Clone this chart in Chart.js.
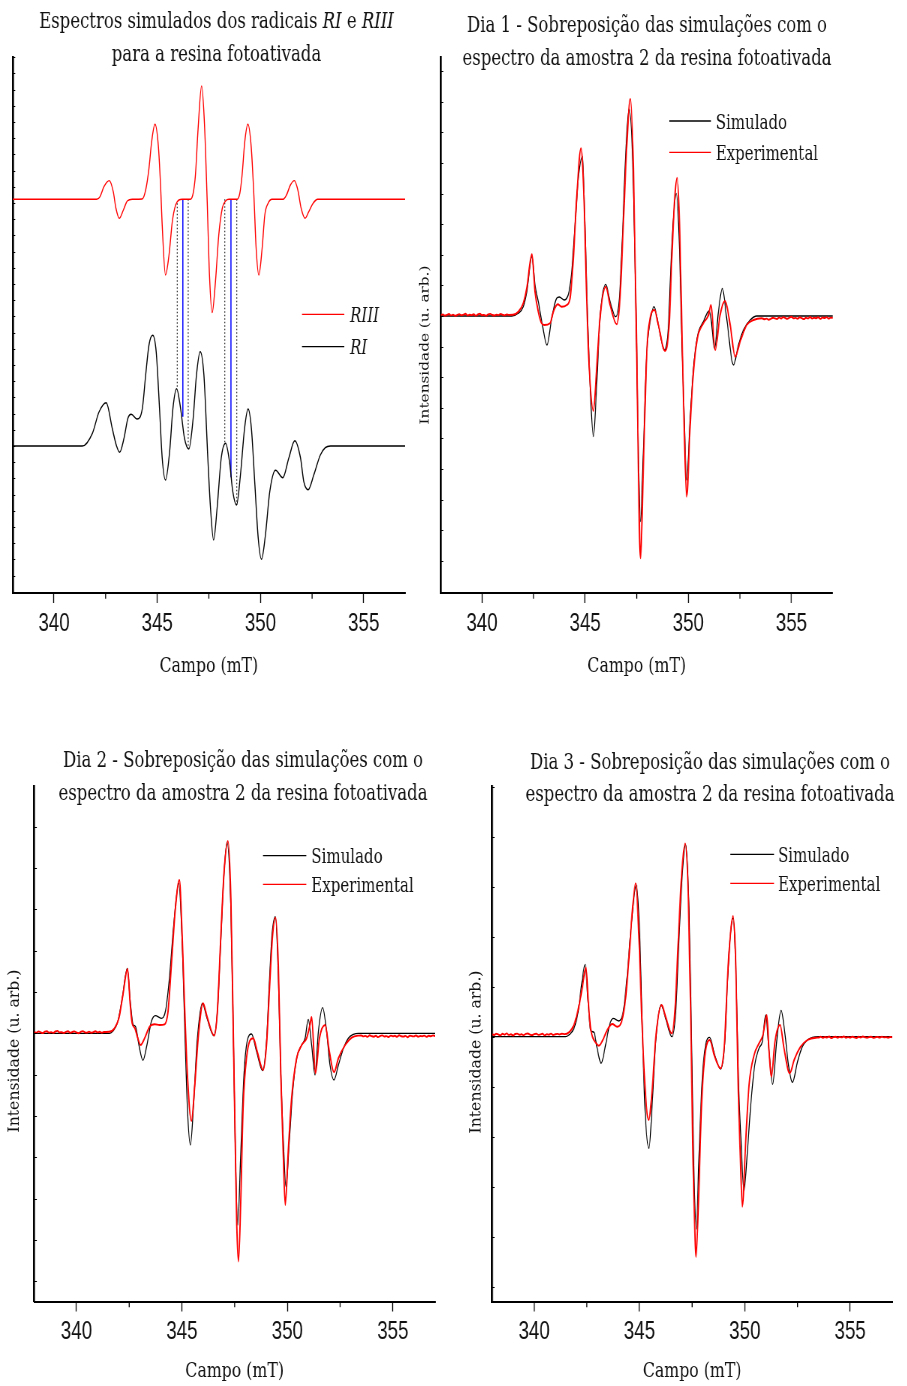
<!DOCTYPE html>
<html>
<head>
<meta charset="utf-8">
<script src="https://cdn.jsdelivr.net/npm/chart.js@4.4.1/dist/chart.umd.min.js"></script>
<style>
  html, body { margin: 0; padding: 0; background: #fff; width: 907px; height: 1386px; overflow: hidden; position: relative; }
  .panel { position: absolute; transform-origin: 0 0; }
  .panel canvas { display: block; }
</style>
</head>
<body>
<script>
// ---------------------------------------------------------------
// EPR spectra (first-derivative), field in mT, intensity in arbitrary units
// ---------------------------------------------------------------

// Field axis shared by every panel
const fieldMin = 338;
const fieldMax = 357;
const fieldTicks = [340, 345, 350, 355];
const fieldMinorTicks = [342.5, 347.5, 352.5];
const sweepStep = 0.1;   // field step of the recorded baseline stretches

// Simulated RIII radical
const riiiSpectrum = [
  [338.00,0],[342.07,0],[342.23,2.7],[342.42,12.7],[342.68,18.7],[342.87,7.7],[343.00,-9],[343.16,-19],
  [343.36,-10.7],[343.55,-1.7],[343.79,0],[344.27,0.3],[344.44,9.3],[344.60,31],[344.73,57.7],[344.89,75],
  [345.05,54.3],[345.16,14.3],[345.24,-25.7],[345.40,-75.7],[345.57,-55.7],[345.73,-22.3],[345.89,-5.7],
  [346.05,-0.7],[346.21,0],[346.61,0],[346.74,6],[346.85,24.3],[346.98,71],[347.15,113.3],[347.29,74.3],
  [347.42,-2.3],[347.53,-75.7],[347.66,-113.3],[347.82,-82.3],[347.98,-35.7],[348.15,-9],[348.31,-1.7],
  [348.47,0],[348.87,0],[349.00,6],[349.11,24.3],[349.24,57.7],[349.39,75],[349.55,52.7],[349.68,4.3],
  [349.79,-49],[349.92,-75.7],[350.08,-49],[350.21,-15.7],[350.37,-4],[350.56,0],[351.10,0],[351.26,4.3],
  [351.45,14.3],[351.64,18.7],[351.81,9.3],[351.97,-9],[352.16,-19],[352.34,-12.3],[352.55,-4],[352.77,0],
  [357.00,0]
];

// Simulated RI radical
const riSpectrum = [
  [338.00,0],[341.37,0],[341.86,12.7],[342.18,34],[342.53,43.3],[342.82,17.7],[343.03,0],[343.18,-6.3],
  [343.39,7.7],[343.58,27.7],[343.74,31.7],[344.03,27],[344.28,37.7],[344.44,71],[344.60,101],[344.78,110.7],
  [344.95,94],[345.11,37.7],[345.24,-12],[345.40,-34],[345.60,-5.7],[345.76,37.7],[345.94,57.3],[346.13,37.7],
  [346.32,7.7],[346.53,-3],[346.74,27.7],[346.90,71],[347.08,94.3],[347.26,71],[347.45,-12],[347.58,-62],
  [347.73,-94],[347.90,-62],[348.10,-12],[348.31,2.7],[348.50,-15.7],[348.66,-45.7],[348.84,-59],[349.03,-29],
  [349.23,17.7],[349.40,37],[349.56,17.7],[349.73,-39],[349.89,-92],[350.05,-113.3],[350.24,-89],[350.45,-45.7],
  [350.73,-24.3],[351.08,-31.7],[351.37,-12.3],[351.66,5.3],[351.94,-12],[352.10,-35.7],[352.31,-43.7],
  [352.58,-29],[352.90,-9],[353.14,-1.7],[353.39,0],[357.00,0]
];

// Guide lines between the RIII and RI traces (field, RIII value at top, RI value at bottom)
const solidGuideField = [346.24, 348.57];
const solidGuideTop = [0, 0];
const solidGuideBottom = [29.3, -31.3];
const dottedGuideField = [345.97, 346.50, 348.27, 348.85];
const dottedGuideTop = [-4, 0, 0, 0];
const dottedGuideBottom = [57.7, -2.3, 2.7, -59];

// Dia 1
const dia1Simulado = [
  [338.00,0],[341.44,0],[341.76,2.7],[342.00,9.3],[342.17,24],[342.42,59.3],[342.57,31],[342.73,14.3],
  [342.93,-9],[343.15,-29],[343.38,-2.3],[343.62,17.7],[343.75,19],[343.99,16],[344.22,24.3],[344.35,44.3],
  [344.51,91],[344.67,137.7],[344.87,159.3],[344.99,91],[345.12,-2.3],[345.24,-69],[345.40,-120.7],
  [345.56,-69],[345.72,-2.3],[346.00,31.7],[346.21,14.3],[346.48,-0.7],[346.66,17.7],[346.81,81],
  [346.97,164],[347.13,207.7],[347.34,131],[347.50,-35.7],[347.58,-135.7],[347.68,-205.7],[347.82,-135.7],
  [347.99,-35.7],[348.15,-5.7],[348.34,9.3],[348.55,-9],[348.84,-34],[349.04,-9],[349.15,47.7],[349.28,97.7],
  [349.41,122.7],[349.55,81],[349.68,-19],[349.80,-102],[349.92,-164],[350.09,-102],[350.25,-52.3],
  [350.44,-20.7],[350.73,-5.7],[351.01,5],[351.10,-2.3],[351.27,-32.3],[351.46,4.3],[351.65,27.7],
  [351.86,-2.3],[352.19,-49],[352.43,-29],[352.67,-14],[353.00,-4],[353.32,0],[357.00,0]
];
const dia1Experimental = [
  [341.50,1.2],[341.76,4.3],[342.00,12.7],[342.17,27.7],[342.42,61.7],[342.57,24.3],[342.73,4.3],[342.89,-7.3],
  [343.02,-9],[343.30,-7.3],[343.46,4.3],[343.67,11.7],[343.86,9.3],[344.11,11],[344.27,17.7],[344.43,57.7],
  [344.59,117.7],[344.80,167.7],[344.95,114.3],[345.08,14.3],[345.20,-52.3],[345.40,-95],[345.56,-52.3],
  [345.72,-2.3],[346.00,29.3],[346.21,11],[346.53,-8.3],[346.69,17.7],[346.85,91],[347.02,171],[347.19,217],
  [347.34,147.7],[347.50,-35.7],[347.58,-152.3],[347.68,-242.3],[347.82,-152.3],[347.99,-35.7],[348.15,-2.3],
  [348.36,6],[348.55,-9],[348.87,-35],[349.07,-9],[349.20,57.7],[349.33,114.3],[349.46,138.3],[349.59,81],
  [349.71,-35.7],[349.81,-119],[349.92,-180.7],[350.09,-109],[350.25,-55.7],[350.44,-22.3],[350.73,-7.3],
  [350.98,1],[351.10,11],[351.30,-34],[351.54,1],[351.78,15],[352.03,-9],[352.27,-40.7],[352.51,-25.7],
  [352.83,-9],[353.16,-4],[353.56,-2.3]
];
const dia1BaselineLow = [0.8,1.6,0.3,1.1,2.0,0.6,1.4,0.2,1.0,1.9,0.7,1.3,2.2,0.5,1.2,0.9,1.8,0.4,1.5,2.3,
  0.8,1.1,0.3,1.7,2.1,1.0,0.5,1.4,0.9,2.0,1.2,0.6,1.6,1.1];
const dia1BaselineHigh = [-3.2,-2.6,-3.8,-2.9,-1.8,-2.4,-3.0,-1.4,-2.5,-1.1,-2.0,-2.8,-1.6,-0.8,-2.3,-1.9,
  -2.7,-1.3,-2.1,-3.1,-1.7,-2.4,-1.0,-2.6,-1.8,-2.2,-1.2,-2.9,-1.5,-2.0,-1.1,-2.5,-1.6,-1.9];

// Dia 2
const dia2Simulado = [
  [338.00,0],[341.57,0],[341.73,2.3],[341.96,11.7],[342.17,35],[342.41,65],[342.55,31.7],[342.68,9],
  [342.80,6.7],[342.96,-11.7],[343.15,-27],[343.34,-11.7],[343.55,11.7],[343.74,17.7],[344.02,15],[344.23,23.3],
  [344.42,58.3],[344.61,108.3],[344.85,150],[345.01,91.7],[345.13,8.3],[345.26,-75],[345.40,-111.7],
  [345.56,-68.3],[345.72,-8.3],[345.97,30],[346.19,15],[346.51,-2.3],[346.68,21.7],[346.84,91.7],[346.99,158.3],
  [347.14,191],[347.32,125],[347.43,8.3],[347.54,-125],[347.65,-191.7],[347.78,-125],[347.94,-41.7],
  [348.09,-8.3],[348.30,-0.7],[348.54,-18.3],[348.82,-37.3],[349.01,-8.3],[349.14,48.3],[349.27,98.3],
  [349.43,116.7],[349.57,58.3],[349.69,-41.7],[349.81,-108.3],[349.93,-153.3],[350.09,-108.3],[350.25,-58.3],
  [350.44,-25],[350.68,-11.7],[350.84,-5],[350.99,14],[351.15,-11.7],[351.31,-41.7],[351.47,1.7],[351.67,25.7],
  [351.86,1.7],[352.02,-31.7],[352.21,-46.7],[352.42,-31.7],[352.66,-15],[352.89,-5],[353.13,-1],[353.37,0],
  [357.00,0]
];
const dia2Experimental = [
  [341.55,1.5],[341.80,5],[342.01,15],[342.20,38.3],[342.42,64.3],[342.55,28.3],[342.64,10],[342.77,5],
  [342.91,-5],[343.04,-11.7],[343.23,-5],[343.47,6.7],[343.71,9],[343.94,8.3],[344.18,9],[344.34,21.7],
  [344.50,68.3],[344.69,125],[344.88,153.3],[345.01,98.3],[345.13,25],[345.26,-41.7],[345.45,-87.7],
  [345.61,-51.7],[345.77,-5],[346.00,30],[346.19,16.7],[346.53,-2.3],[346.68,21.7],[346.84,95],[347.00,161.7],
  [347.18,192.3],[347.32,135],[347.43,8.3],[347.54,-125],[347.60,-191.7],[347.68,-228.3],[347.78,-175],
  [347.90,-75],[348.06,-25],[348.38,-5],[348.57,-18.3],[348.85,-36.7],[349.01,-11.7],[349.17,51.7],
  [349.30,98.3],[349.44,115.7],[349.57,68.3],[349.69,-41.7],[349.81,-125],[349.90,-171.7],[350.04,-118.3],
  [350.20,-65],[350.44,-25],[350.68,-11.7],[350.91,-5],[351.07,8.3],[351.15,16.3],[351.33,-40],[351.52,-5],
  [351.79,8.3],[351.99,-18.3],[352.21,-39],[352.42,-25],[352.74,-11.7],[353.05,-4.3],[353.37,-2.3]
];
const dia2BaselineLow = [1.3,0.5,1.9,1.0,0.2,1.6,2.1,0.7,1.2,0.4,1.8,2.4,0.9,1.1,0.3,1.5,2.0,0.6,1.3,1.9,
  0.8,0.1,1.4,2.2,1.0,0.7,1.7,0.5,1.2,2.0,0.9,1.5,0.6,1.3];
const dia2BaselineHigh = [-2.2,-3.1,-2.6,-3.6,-2.0,-2.9,-3.4,-2.4,-3.8,-2.7,-2.1,-3.2,-2.8,-3.7,-2.3,-3.0,
  -2.5,-3.5,-2.0,-2.9,-3.3,-2.6,-3.9,-2.4,-2.8,-3.1,-2.2,-3.4,-2.7,-3.0,-2.3,-3.6,-2.5,-2.9,-2.1,-2.7];

// Dia 3
const dia3Simulado = [
  [338.00,0],[341.49,0],[341.65,1.7],[341.89,8.3],[342.09,25],[342.25,51.7],[342.42,72.3],[342.55,38.3],
  [342.68,6.7],[342.84,4.3],[342.99,-11.7],[343.18,-26.7],[343.39,-8.3],[343.58,11.7],[343.75,18.3],
  [344.02,15.7],[344.23,25],[344.42,61.7],[344.61,111.7],[344.85,151.7],[345.01,101.7],[345.13,11.7],
  [345.26,-71.7],[345.45,-111.7],[345.61,-65],[345.77,-5],[346.03,31.7],[346.24,18.3],[346.54,0],[346.72,25],
  [346.87,95],[347.03,161.7],[347.19,192.3],[347.35,128.3],[347.46,11.7],[347.57,-121.7],[347.70,-192.3],
  [347.82,-121.7],[347.98,-41.7],[348.14,-8.3],[348.33,-0.7],[348.57,-18.3],[348.85,-32.3],[349.04,-8.3],
  [349.17,51.7],[349.30,98.3],[349.44,118.3],[349.57,71.7],[349.69,-38.3],[349.82,-105],[349.96,-153.3],
  [350.12,-115],[350.28,-68.3],[350.47,-28.3],[350.67,-11.7],[350.83,-5],[350.99,21.7],[351.15,-15],
  [351.32,-47.7],[351.51,-5],[351.72,26.3],[351.91,1.7],[352.07,-28.3],[352.26,-45.7],[352.50,-25],
  [352.73,-10],[352.97,-3.3],[353.21,-0.7],[353.52,0],[357.00,0]
];
const dia3Experimental = [
  [341.45,2.6],[341.65,4.3],[341.89,11.7],[342.12,30],[342.28,48.3],[342.46,69.3],[342.57,35],[342.68,8.3],
  [342.80,-1.7],[342.95,-6.7],[343.07,-9],[343.26,-3.3],[343.47,6.7],[343.71,12.7],[343.94,10],[344.15,15],
  [344.34,38.3],[344.50,78.3],[344.66,125],[344.82,153.3],[344.97,101.7],[345.10,25],[345.23,-38.3],
  [345.43,-83.3],[345.61,-51.7],[345.77,-1.7],[346.05,31.7],[346.24,20],[346.53,3.3],[346.68,25],[346.84,95],
  [347.00,161.7],[347.17,193.3],[347.32,138.3],[347.44,11.7],[347.54,-121.7],[347.62,-188.3],[347.68,-220.3],
  [347.79,-171.7],[347.94,-71.7],[348.09,-21.7],[348.33,-3.3],[348.57,-20],[348.85,-31.7],[349.04,-5],
  [349.17,55],[349.30,98.3],[349.44,120.7],[349.57,71.7],[349.69,-55],[349.79,-121.7],[349.88,-170],
  [350.04,-105],[350.20,-48.3],[350.44,-18.3],[350.67,-6.7],[350.86,1.7],[351.04,21.7],[351.15,-15],
  [351.26,-40],[351.43,-5],[351.67,11.7],[351.86,-11.7],[352.13,-36.7],[352.34,-23.3],[352.65,-10],
  [352.97,-3.3],[353.37,-1]
];
const dia3BaselineLow = [2.6,1.7,3.0,2.2,1.4,2.9,2.0,3.3,1.8,2.5,1.2,2.7,3.1,1.9,2.4,1.5,2.8,3.2,2.1,1.6,
  2.6,3.0,1.8,2.3,2.9,1.3,2.5,2.0,3.1,1.7,2.4,2.8,2.2,3.0];
const dia3BaselineHigh = [-0.9,0.1,-1.2,-0.3,-0.8,0.2,-1.4,-0.5,0.0,-1.0,-0.2,-0.7,0.3,-1.1,-0.4,-0.9,0.1,
  -0.6,-1.3,-0.1,-0.8,0.2,-0.5,-1.0,-0.3,0.0,-1.2,-0.6,-0.2,-0.9,0.1,-0.7,-0.4,-1.1,-0.3,-0.6];

// Texts
const titleRadicais = [
  [{t: 'Espectros simulados dos radicais '}, {t: 'RI', i: true}, {t: ' e '}, {t: 'RIII', i: true}],
  [{t: 'para a resina fotoativada'}]
];
const titleDia = n => [
  [{t: 'Dia ' + n + ' - Sobreposição das simulações com o'}],
  [{t: 'espectro da amostra 2 da resina fotoativada'}]
];
const fieldAxisTitle = 'Campo (mT)';
const intensityAxisTitle = 'Intensidade (u. arb.)';
const radicalLabels = ['RIII', 'RI'];
const overlayLabels = ['Simulado', 'Experimental'];

// ---------------------------------------------------------------
// Drawing
// ---------------------------------------------------------------
const S = 0.75;                     // horizontal squeeze of every panel
const SERIF = '"DejaVu Serif", "Liberation Serif", serif';
const SANS = '"Liberation Sans", Arial, sans-serif';
const INK = '#111';
const RED = '#ff0000';
const BLACK = '#000000';
const BLUE = '#0000ff';

const pts = arr => arr.map(([x, y]) => ({x, y}));

function recorded(low, body, high, highStart) {
  const out = [];
  low.forEach((v, i) => out.push({x: +(fieldMin + i * sweepStep).toFixed(2), y: v}));
  body.forEach(([x, y]) => out.push({x, y}));
  high.forEach((v, i) => out.push({x: +(highStart + i * sweepStep).toFixed(2), y: v}));
  return out;
}

function trace(data, color, width, order) {
  return {data, borderColor: color, borderWidth: width, pointRadius: 0, fill: false,
          cubicInterpolationMode: 'monotone', order};
}

function makeDecor(spec) {
  return {
    id: 'decor',
    afterDraw(chart) {
      const {ctx, chartArea: ca, scales: {x, y}} = chart;
      const cx = v => (v - spec.box.L) / S;
      const cy = v => v - spec.box.T;
      ctx.save();
      // short inner ticks on the intensity axis
      ctx.strokeStyle = BLACK;
      ctx.lineWidth = 1;
      const k0 = Math.ceil(y.min / spec.yStep), k1 = Math.floor(y.max / spec.yStep);
      for (let k = k0; k <= k1; k++) {
        const yy = Math.round(y.getPixelForValue(k * spec.yStep)) + 0.5;
        if (yy > ca.bottom - 3) continue;
        ctx.beginPath(); ctx.moveTo(ca.left, yy); ctx.lineTo(ca.left + 3.4, yy); ctx.stroke();
      }
      // minor field ticks
      ctx.lineWidth = 1 / S;
      fieldMinorTicks.forEach(v => {
        const xx = x.getPixelForValue(v);
        ctx.beginPath(); ctx.moveTo(xx, ca.bottom); ctx.lineTo(xx, ca.bottom + 5.7); ctx.stroke();
      });
      // title
      ctx.fillStyle = INK;
      ctx.textBaseline = 'middle';
      ctx.textAlign = 'left';
      spec.title.forEach((segs, li) => {
        const fontOf = s => (s.i ? 'italic ' : '') + '22px ' + SERIF;
        let w = 0;
        segs.forEach(s => { ctx.font = fontOf(s); w += ctx.measureText(s.t).width; });
        let xx = cx(spec.titleX) - w / 2;
        const yy = cy(spec.titleY[li]) + 2;
        segs.forEach(s => { ctx.font = fontOf(s); ctx.fillText(s.t, xx, yy); xx += ctx.measureText(s.t).width; });
      });
      // intensity axis title (rotated, with its own horizontal squeeze)
      if (spec.yTitle) {
        ctx.save();
        ctx.translate(cx(spec.yTitle.x), cy(spec.yTitle.y));
        ctx.scale(spec.yTitle.squeeze / S, 1);
        ctx.rotate(-Math.PI / 2);
        ctx.textAlign = 'center';
        ctx.font = spec.yTitle.size + 'px ' + SERIF;
        ctx.fillText(intensityAxisTitle, 0, 0);
        ctx.restore();
      }
      // legend
      const lg = spec.legend;
      lg.labels.forEach((label, i) => {
        const ds = chart.data.datasets[lg.datasets[i]];
        const yy = cy(lg.rows[i]);
        ctx.strokeStyle = ds.borderColor;
        ctx.lineWidth = 1.3;
        ctx.beginPath(); ctx.moveTo(cx(lg.x0), yy); ctx.lineTo(cx(lg.x1), yy); ctx.stroke();
        ctx.fillStyle = INK;
        ctx.font = (lg.italic ? 'italic ' : '') + '20px ' + SERIF;
        ctx.fillText(label, cx(lg.tx), yy + 2.5);
      });
      ctx.restore();
    }
  };
}

function buildPanel(spec) {
  const {box, plot} = spec;
  const wrap = document.createElement('div');
  wrap.className = 'panel';
  const cw = Math.round(box.W / S);
  wrap.style.left = box.L + 'px';
  wrap.style.top = box.T + 'px';
  wrap.style.width = cw + 'px';
  wrap.style.height = box.H + 'px';
  wrap.style.transform = 'scaleX(' + S + ')';
  const canvas = document.createElement('canvas');
  canvas.width = cw;
  canvas.height = box.H;
  canvas.style.width = cw + 'px';
  canvas.style.height = box.H + 'px';
  wrap.appendChild(canvas);
  document.body.appendChild(wrap);

  new Chart(canvas, {
    type: 'line',
    data: {datasets: spec.datasets},
    options: {
      responsive: false,
      animation: false,
      events: [],
      layout: {padding: {left: 0, top: plot.t - box.T, right: cw - (plot.r - box.L) / S, bottom: 0}},
      plugins: {legend: {display: false}, tooltip: {enabled: false}, title: {display: false}},
      scales: {
        x: {
          type: 'linear', min: fieldMin, max: fieldMax,
          afterBuildTicks: s => { s.ticks = fieldTicks.map(v => ({value: v})); },
          afterFit: s => { s.height = box.T + box.H - plot.b; },
          ticks: {font: {family: SANS, size: 25}, color: INK, padding: spec.tickPad, maxRotation: 0, autoSkip: false},
          grid: {display: true, drawOnChartArea: false, drawTicks: true, tickLength: 10,
                 tickWidth: 1 / S, color: BLACK, tickColor: BLACK},
          border: {display: true, color: BLACK, width: 2},
          title: {display: true, text: fieldAxisTitle, color: INK, font: {family: SERIF, size: 21},
                  padding: {top: 0, bottom: spec.xTitlePad}}
        },
        y: {
          type: 'linear', min: spec.yMin, max: spec.yMax,
          afterFit: s => { s.width = (plot.l - box.L) / S; },
          ticks: {display: false},
          grid: {display: false},
          border: {display: true, color: BLACK, width: 2 / S}
        }
      }
    },
    plugins: [makeDecor(spec)]
  });
}

// Panel: simulated radicals
const riiiOffset = 246.7;
const guideSets = [];
solidGuideField.forEach((f, i) => guideSets.push({
  data: [{x: f, y: riiiOffset + solidGuideTop[i]}, {x: f, y: solidGuideBottom[i]}],
  borderColor: BLUE, borderWidth: 1.5, pointRadius: 0, tension: 0, order: 2
}));
dottedGuideField.forEach((f, i) => guideSets.push({
  data: [{x: f, y: riiiOffset + dottedGuideTop[i]}, {x: f, y: dottedGuideBottom[i]}],
  borderColor: '#333', borderWidth: 1.3, borderDash: [1.5, 2], pointRadius: 0, tension: 0, order: 3
}));

buildPanel({
  box: {L: 0, T: 0, W: 415, H: 690},
  plot: {l: 12.7, r: 405, t: 57, b: 593},
  yMin: -147, yMax: 389, yStep: 16.2,
  tickPad: 6, xTitlePad: 10.4,
  title: titleRadicais, titleX: 216.5, titleY: [20.5, 53],
  legend: {labels: radicalLabels, datasets: [0, 1], italic: true, x0: 302, x1: 344.3, tx: 350, rows: [314.3, 346.7]},
  datasets: [
    trace(pts(riiiSpectrum).map(p => ({x: p.x, y: p.y + riiiOffset})), RED, 1.4, 0),
    trace(pts(riSpectrum), BLACK, 1.4, 1),
    ...guideSets
  ]
});

// Panels: day-by-day overlays
const overlays = [
  {n: 1, sim: dia1Simulado, exp: dia1Experimental, low: dia1BaselineLow, high: dia1BaselineHigh, highStart: 353.7,
   box: {L: 415, T: 0, W: 480, H: 690}, plot: {l: 440.7, r: 832.7, t: 57, b: 593},
   yMin: -277, yMax: 259, yStep: 30.6, tickPad: 6, xTitlePad: 10.4,
   titleX: 647, titleY: [24.2, 57], yTitle: {x: 425, y: 345, size: 15.3, squeeze: 0.8},
   legend: {x0: 669.3, x1: 711, tx: 715.7, rows: [121, 152.3]}},
  {n: 2, sim: dia2Simulado, exp: dia2Experimental, low: dia2BaselineLow, high: dia2BaselineHigh, highStart: 353.5,
   box: {L: 0, T: 720, W: 450, H: 666}, plot: {l: 34.3, r: 435, t: 786.5, b: 1301.5},
   yMin: -268.2, yMax: 246.8, yStep: 41.3, tickPad: 5.5, xTitlePad: 1.4,
   titleX: 243, titleY: [759.7, 792], yTitle: {x: 15, y: 1051, size: 15.7, squeeze: 1},
   legend: {x0: 263, x1: 306.3, tx: 311.3, rows: [855.7, 884.3]}},
  {n: 3, sim: dia3Simulado, exp: dia3Experimental, low: dia3BaselineLow, high: dia3BaselineHigh, highStart: 353.5,
   box: {L: 458, T: 720, W: 449, H: 666}, plot: {l: 492, r: 892.3, t: 786.5, b: 1301.5},
   yMin: -264.8, yMax: 250.2, yStep: 50, tickPad: 5.5, xTitlePad: 1.4,
   titleX: 710, titleY: [761.4, 793.5], yTitle: {x: 476.7, y: 1052, size: 15.7, squeeze: 1},
   legend: {x0: 730.3, x1: 774, tx: 778, rows: [854.3, 883.3]}}
];

overlays.forEach(o => {
  buildPanel({
    box: o.box, plot: o.plot,
    yMin: o.yMin, yMax: o.yMax, yStep: o.yStep,
    tickPad: o.tickPad, xTitlePad: o.xTitlePad,
    title: titleDia(o.n), titleX: o.titleX, titleY: o.titleY, yTitle: o.yTitle,
    legend: Object.assign({labels: overlayLabels, datasets: [0, 1], italic: false}, o.legend),
    datasets: [
      trace(pts(o.sim), BLACK, 1.3, 1),
      trace(recorded(o.low, o.exp, o.high, o.highStart), RED, 1.9, 0)
    ]
  });
});
</script>
</body>
</html>
